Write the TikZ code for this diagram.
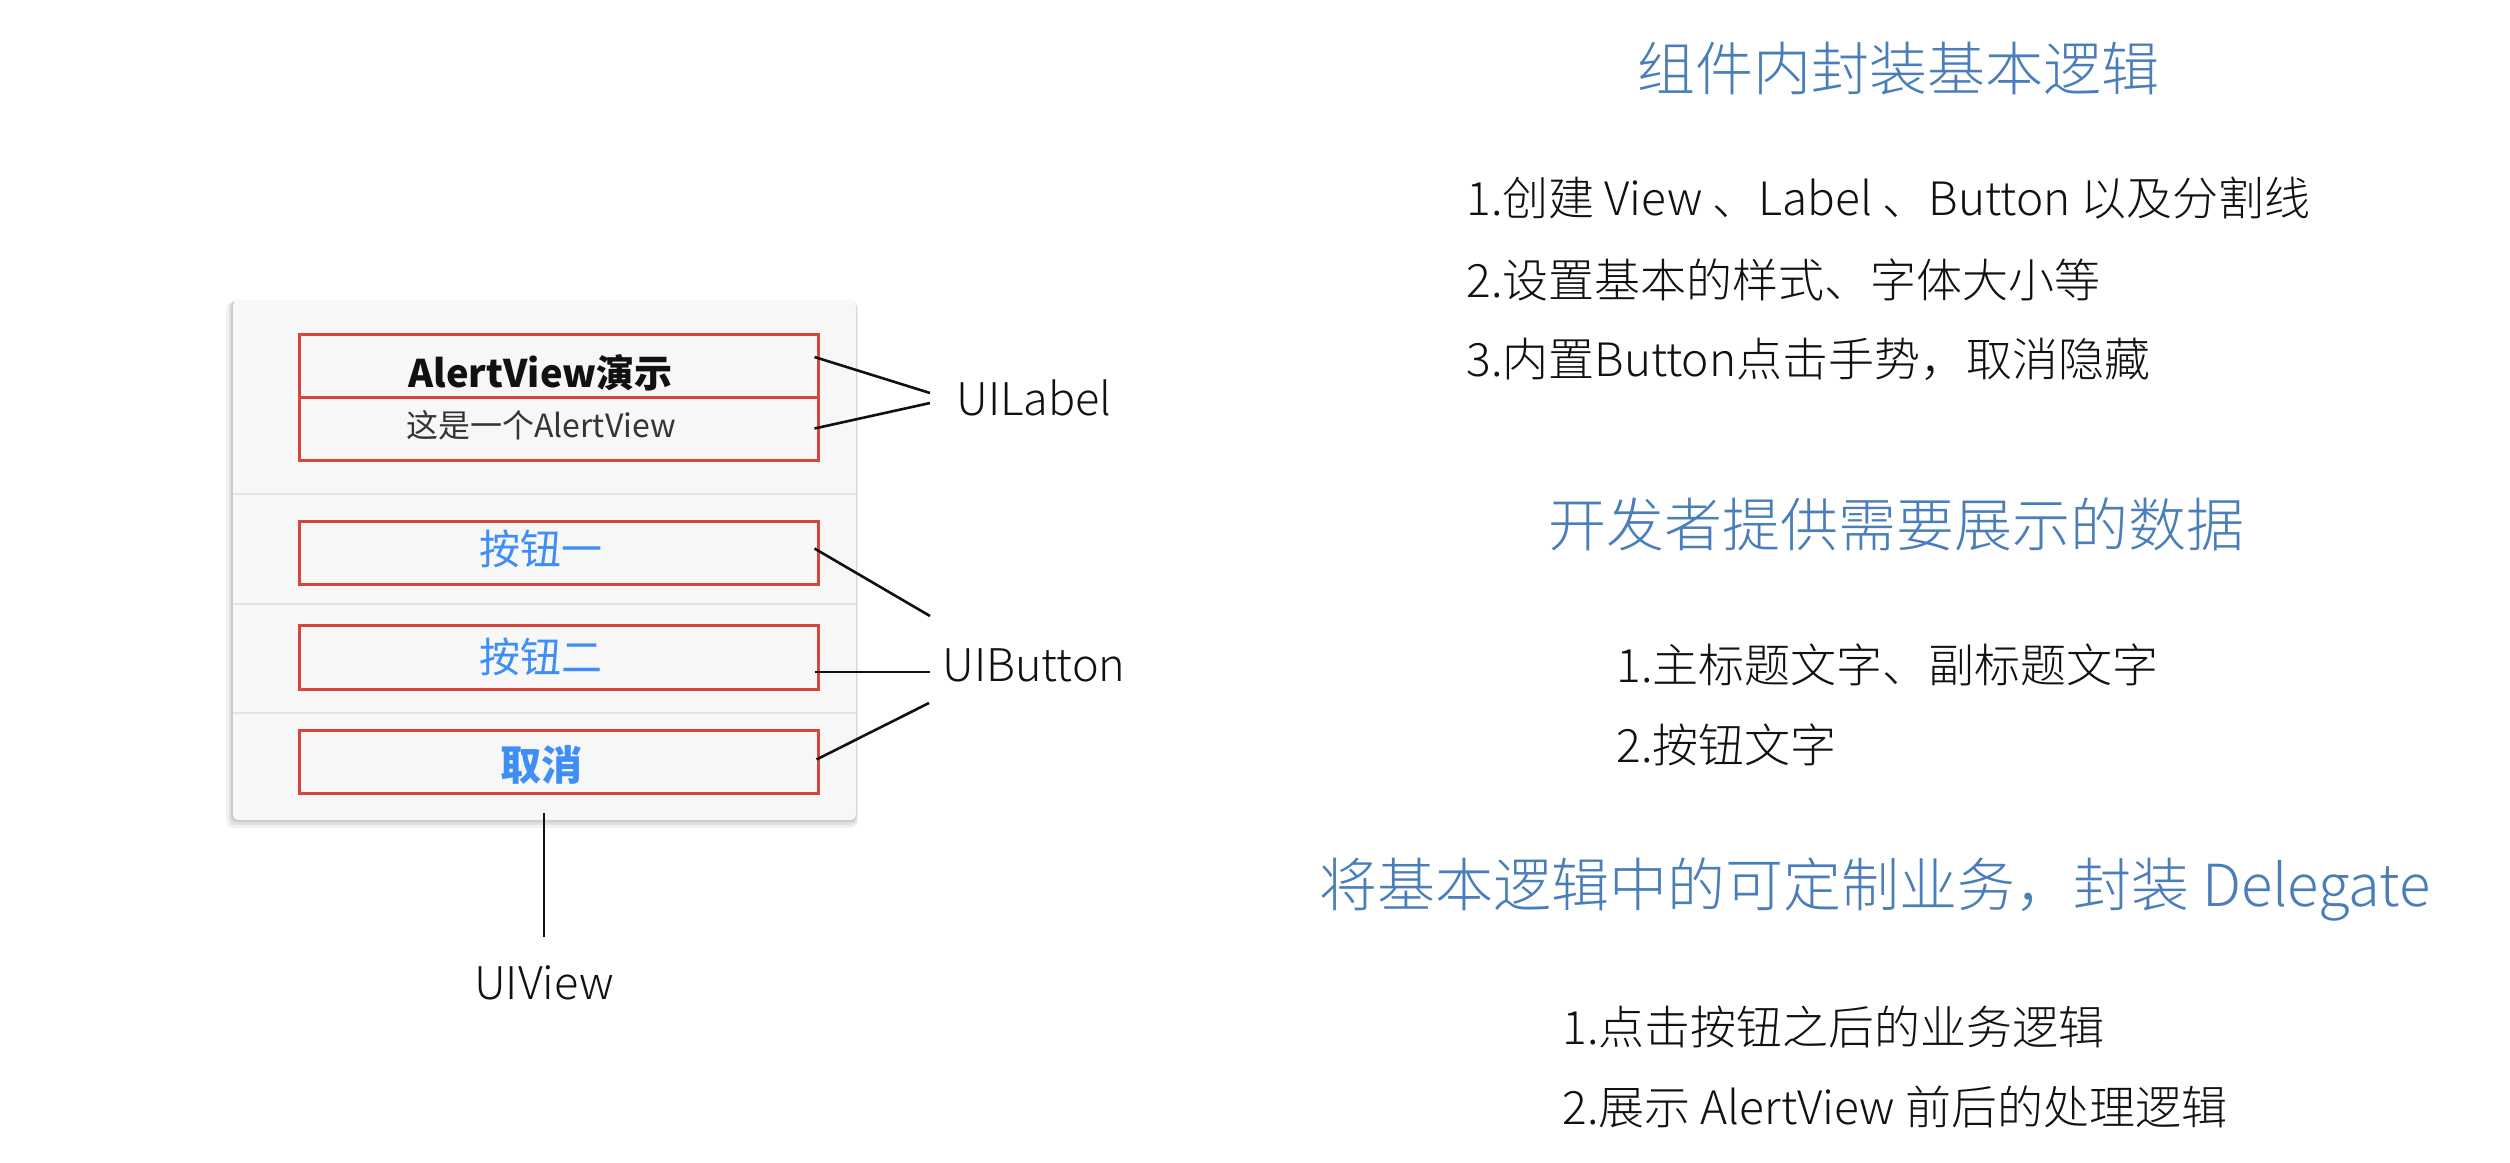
\documentclass[tikz,border=0pt]{standalone}
\usepackage{fontspec}
\setmainfont{Noto Sans CJK SC}
\newfontfamily\lightfont{Noto Sans CJK SC Light}
\usetikzlibrary{calc}
\definecolor{titleblue}{HTML}{4A7EBB}
\definecolor{btnblue}{HTML}{3E8EF5}
\definecolor{boxred}{HTML}{D8453B}
\definecolor{cardbg}{HTML}{F7F7F7}
\definecolor{sepgray}{HTML}{E4E4E4}
\definecolor{ink}{HTML}{111111}
\begin{document}
\begin{tikzpicture}[x=0.5pt,y=-0.5pt,
  redbox/.style={draw=boxred, line width=1.5pt, rectangle, inner sep=0pt,
    minimum width=259.5pt, minimum height=31.5pt},
  cardbox/.style={rectangle, fill=cardbg, rounded corners=2.5pt, inner sep=0pt,
    minimum width=311.5pt, minimum height=260pt},
  sepline/.style={draw=sepgray, line width=1pt},
  conn/.style={draw=ink, line width=1.3pt},
  heading/.style={text=titleblue, inner sep=0pt, font=\lightfont\fontsize{29pt}{32pt}\selectfont},
  bodytext/.style={anchor=west, inner sep=0pt, text=ink, font=\lightfont\fontsize{23pt}{26pt}\selectfont},
  tag/.style={inner sep=0pt, text=ink, font=\lightfont\fontsize{22.5pt}{25pt}\selectfont},
  alerttitle/.style={inner sep=0pt, text=ink, font=\fontsize{19pt}{21pt}\selectfont\bfseries},
  alertsub/.style={inner sep=0pt, text=ink!85, font=\fontsize{16pt}{18pt}\selectfont},
  btntext/.style={inner sep=0pt, text=btnblue, font=\fontsize{20.5pt}{23pt}\selectfont},
]
\useasboundingbox (0,0) rectangle (2510,1162);
\fill[white] (0,0) rectangle (2510,1162);

% card shadow
\fill[black, opacity=0.05, rounded corners=4pt] (226,302) rectangle (858,828);
\fill[black, opacity=0.07, rounded corners=3pt] (229,301) rectangle (857,825);
\fill[black, opacity=0.09, rounded corners=3pt] (231,300.5) rectangle (856.5,822);

% card
\node[cardbox] (card) at (544.5,560) {};
\draw[sepline] (233,494) -- (856,494);
\draw[sepline] (233,604) -- (856,604);
\draw[sepline] (233,713) -- (856,713);

% red boxes
\node[redbox] (titlebox) at (558.5,365.5) {};
\node[redbox] (subbox) at (558.5,428.5) {};
\node[redbox] (btnone) at (558.5,552.5) {};
\node[redbox, minimum height=32pt] (btntwo) at (558.5,657) {};
\node[redbox] (cancelbox) at (558.5,761.5) {};

% texts inside
\node[alerttitle] (ttl) at (540.5,373) {AlertView演示};
\node[alertsub] (sub) at (541,425) {这是一个AlertView};
\node[btntext] (b1) at (541,549) {按钮一};
\node[btntext] (b2) at (541,657) {按钮二};
\node[btntext, font=\fontsize{20.5pt}{23pt}\selectfont\bfseries] (b3) at (541,765) {取消};

% labels
\node[tag] (uilabel) at (1034,398) {UILabel};
\node[tag] (uibutton) at (1034,665) {UIButton};
\node[tag] (uiview) at (544,983) {UIView};

\coordinate (lA) at (930,393);
\coordinate (lB) at (930,403);
\coordinate (bA) at (930,616);
\coordinate (bB) at (930,672);
\coordinate (bC) at (929,703);
\coordinate (vEnd) at (544,937);

\draw[conn] ($(titlebox.east)+(-5,-8.5)$) -- (lA);
\draw[conn] ($(subbox.east)+(-5,0)$) -- (lB);
\draw[conn] ($(btnone.east)+(-5,-4)$) -- (bA);
\draw[conn] ($(btntwo.east)+(-5,15)$) -- (bB);
\draw[conn] ($(cancelbox.east)+(-3,-2)$) -- (bC);
\draw[conn] ($(card.south)+(-0.5,-7)$) -- (vEnd);

% right side text
\node[heading] (h1) at (1898,69) {组件内封装基本逻辑};
\node[bodytext] (l1) at (1466,198) {1.创建 View 、Label 、Button 以及分割线};
\node[bodytext] (l2) at (1466,280) {2.设置基本的样式、字体大小等};
\node[bodytext] (l3) at (1466,359) {3.内置Button点击手势，取消隐藏};

\node[heading] (h2) at (1896,524) {开发者提供需要展示的数据};
\node[bodytext] (m1) at (1616,665) {1.主标题文字、副标题文字};
\node[bodytext] (m2) at (1616,745) {2.按钮文字};

\node[heading] (h3) at (1875,889) {将基本逻辑中的可定制业务，封装 Delegate};
\node[bodytext] (d1) at (1562,1027) {1.点击按钮之后的业务逻辑};
\node[bodytext] (d2) at (1562,1107) {2.展示 AlertView 前后的处理逻辑};
\end{tikzpicture}
\end{document}
